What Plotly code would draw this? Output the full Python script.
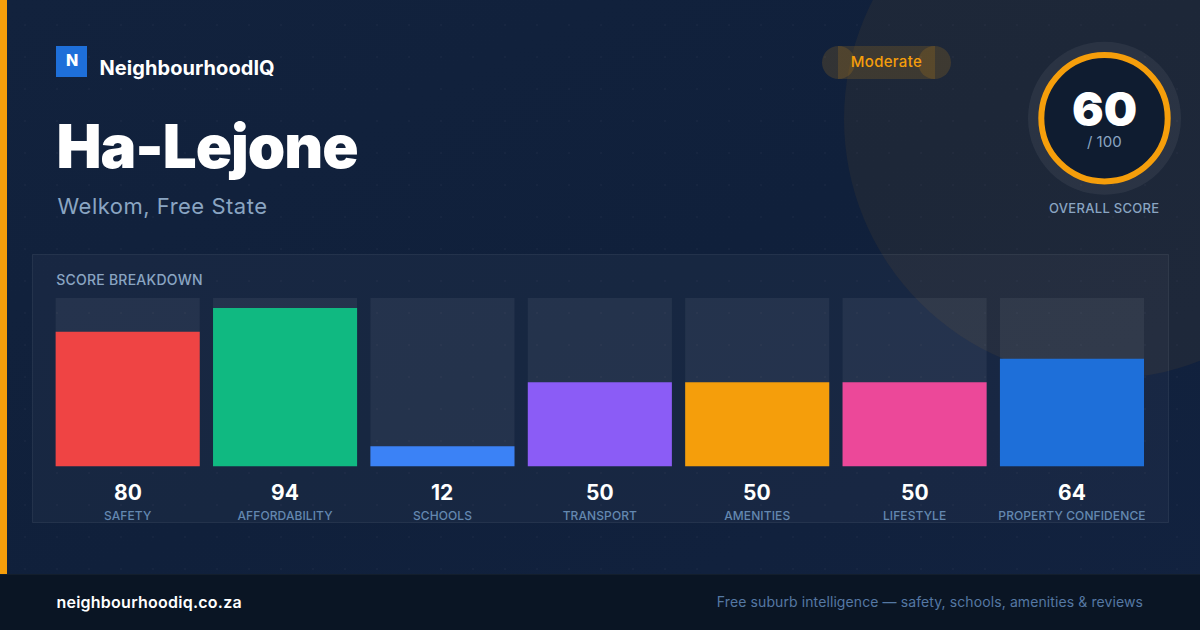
import base64
import plotly.graph_objects as go

# ---- data ----
categories = ["SAFETY", "AFFORDABILITY", "SCHOOLS", "TRANSPORT", "AMENITIES", "LIFESTYLE", "PROPERTY CONFIDENCE"]
scores = [80, 94, 12, 50, 50, 50, 64]
track_values = [100, 100, 100, 100, 100, 100, 100]
bar_colors = ["#ef4444", "#10b981", "#3b82f6", "#8b5cf6", "#f59e0b", "#ec4899", "#1e6fd9"]
overall_score = 60
overall_max = 100
band_label = "Moderate"
suburb = "Ha-Lejone"
location = "Welkom, Free State"

W, H = 1200, 630
FONT = "Inter"
ORANGE = "#f59e0b"


def px(x):
    return x / W


def py(y):
    return 1 - y / H


def rect(x0, y0, x1, y1, fill, line=None, lw=0, kind="rect"):
    return dict(type=kind, xref="paper", yref="paper", layer="below",
                x0=px(x0), x1=px(x1), y0=py(y1), y1=py(y0),
                fillcolor=fill, line=dict(color=line or "rgba(0,0,0,0)", width=lw))


def circle(cx, cy, r, fill, line=None, lw=0):
    return rect(cx - r, cy - r, cx + r, cy + r, fill, line, lw, kind="circle")


def label(x, y, text, size, color, weight=400, anchor="left"):
    return dict(xref="paper", yref="paper", x=px(x), y=py(y), text=text, showarrow=False,
                xanchor=anchor, yanchor="middle", borderpad=0, borderwidth=0,
                font=dict(family=FONT, size=size, color=color, weight=weight))


svg = (
    '<svg xmlns="http://www.w3.org/2000/svg" width="1200" height="630">'
    '<defs><linearGradient id="g" x1="0" y1="0" x2="1" y2="1">'
    '<stop offset="0" stop-color="#12223d"/><stop offset="0.5" stop-color="#10203b"/>'
    '<stop offset="1" stop-color="#12223f"/></linearGradient>'
    '<pattern id="p" width="32" height="32" patternUnits="userSpaceOnUse">'
    '<circle cx="25" cy="25" r="1" fill="rgba(255,255,255,0.028)"/></pattern></defs>'
    '<rect width="1200" height="630" fill="url(#g)"/><rect width="1200" height="630" fill="url(#p)"/></svg>'
)
bg_uri = "data:image/svg+xml;base64," + base64.b64encode(svg.encode()).decode()

shapes = [
    circle(1104, 119, 260, "rgba(245,158,11,0.06)"),
    rect(0, 0, 7, 574, ORANGE),
    rect(0, 574, W, 630, "#0a1524"),
    rect(0, 574, W, 575, "rgba(255,255,255,0.04)"),
    rect(56, 46, 87, 77, "#1e6fd9"),
    rect(822, 46, 855, 79, "rgba(245,158,11,0.15)", kind="circle"),
    rect(918, 46, 951, 79, "rgba(245,158,11,0.15)", kind="circle"),
    rect(838, 46, 935, 79, "rgba(245,158,11,0.15)"),
    circle(1104.5, 118.3, 76.5, "rgba(255,255,255,0.06)"),
    circle(1104.5, 118.3, 63.2, "#0f1c30", ORANGE, 6),
    rect(32.5, 254.5, 1168.5, 522.5, "rgba(255,255,255,0.03)", "rgba(255,255,255,0.07)", 1),
]

annotations = [
    label(71.7, 60.5, "N", 16, "#ffffff", 800, "center"),
    label(100.4, 68.3, "NeighbourhoodIQ", 20, "#ffffff", 700),
    label(52, 145.5, suburb, 60, "#ffffff", 900),
    label(62, 206, location, 22, "#8aa5c2"),
    label(886.5, 61.5, band_label, 15, ORANGE, 500, "center"),
    label(1104, 108, str(overall_score), 47, "#ffffff", 900, "center"),
    label(1104.5, 141, f"/ {overall_max}", 15, "#8aa5c2", 400, "center"),
    label(1104.5, 208, "OVERALL SCORE", 13, "#8aa5c2", 500, "center"),
    label(57.7, 279.8, "SCORE BREAKDOWN", 14, "#8aa5c2", 500),
    label(58.8, 601.7, "neighbourhoodiq.co.za", 16, "#ffffff", 600),
    label(1140, 601.7, "Free suburb intelligence — safety, schools, amenities & reviews", 14, "#5578a3", 400, "right"),
]
for cat, val in zip(categories, scores):
    annotations.append(dict(xref="x", yref="y", x=cat, y=0, yshift=-25.4, text=str(val), showarrow=False,
                            yanchor="middle", font=dict(family=FONT, size=21, color="#ffffff", weight=700)))

fig = go.Figure()
fig.add_bar(x=categories, y=track_values, marker=dict(color="rgba(255,255,255,0.06)", line_width=0), hoverinfo="skip")
fig.add_bar(x=categories, y=scores, marker=dict(color=bar_colors, line_width=0))

fig.update_layout(
    width=W, height=H, margin=dict(l=0, r=0, t=0, b=0), autosize=False,
    paper_bgcolor="#11213c", plot_bgcolor="rgba(0,0,0,0)",
    barmode="overlay", bargap=0.08451, showlegend=False,
    shapes=shapes, annotations=annotations,
    images=[dict(source=bg_uri, xref="paper", yref="paper", x=0, y=1, sizex=1, sizey=1,
                 xanchor="left", yanchor="top", sizing="stretch", layer="below")],
    xaxis=dict(domain=[49 / W, 1150.66 / W], range=[-0.5, 6.5], type="category",
               showgrid=False, zeroline=False, showline=False, ticks="",
               tickfont=dict(family=FONT, size=12, color="#6488b0", weight=500), ticklabelstandoff=40,
               tickangle=0, automargin=False),
    yaxis=dict(domain=[1 - 466.6 / H, 1 - 298 / H], range=[0, 100], showgrid=False, zeroline=False,
               showline=False, showticklabels=False, ticks="", automargin=False),
)

post = """
document.documentElement.style.margin='0';document.body.style.margin='0';document.body.style.overflow='hidden';
var ls={'NeighbourhoodIQ':'0.07px','Welkom, Free State':'0.5px','neighbourhoodiq.co.za':'0.25px','Free suburb intelligence — safety, schools, amenities & reviews':'0.1px','OVERALL SCORE':'0.3px','SCORE BREAKDOWN':'0.25px','Moderate':'0.3px','Ha-Lejone':'-1px','SAFETY':'0.1px','AFFORDABILITY':'0.1px','SCHOOLS':'0.1px','TRANSPORT':'0.1px','AMENITIES':'0.1px','LIFESTYLE':'0.1px','PROPERTY CONFIDENCE':'0.1px'};
document.querySelectorAll('svg text').forEach(function(t){var s=ls[t.textContent];if(s){t.style.letterSpacing=s;}});
"""
fig.write_html("out.html", post_script=post, config=dict(displayModeBar=False))
